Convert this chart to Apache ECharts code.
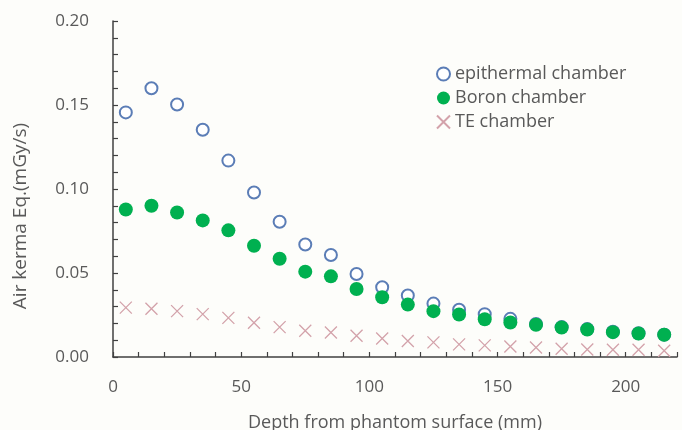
<!DOCTYPE html>
<html>
<head>
<meta charset="utf-8">
<script src="https://cdn.jsdelivr.net/npm/echarts@6/dist/echarts.min.js"></script>
<style>
  html, body { margin: 0; padding: 0; background: #fdfdfa; }
  #chart { width: 682px; height: 430px; }
</style>
</head>
<body>
<div id="chart"></div>
<script>
// Depth in phantom (mm)
const depths = [5, 15, 25, 35, 45, 55, 65, 75, 85, 95, 105, 115, 125, 135, 145, 155, 165, 175, 185, 195, 205, 215];

// Air kerma equivalent (mGy/s) per detector
const epithermal = [0.1456, 0.1600, 0.1503, 0.1353, 0.1169, 0.0979, 0.0805, 0.0670, 0.0607, 0.0494, 0.0415, 0.0366, 0.0318, 0.0281, 0.0255, 0.0227, 0.0196, 0.0178, 0.0166, 0.0150, 0.0141, 0.0133];
const boron      = [0.0878, 0.0900, 0.0860, 0.0813, 0.0754, 0.0662, 0.0585, 0.0508, 0.0480, 0.0405, 0.0356, 0.0312, 0.0273, 0.0253, 0.0225, 0.0205, 0.0192, 0.0176, 0.0164, 0.0148, 0.0140, 0.0132];
const teChamber  = [0.0294, 0.0287, 0.0273, 0.0255, 0.0233, 0.0204, 0.0178, 0.0156, 0.0146, 0.0126, 0.0110, 0.0095, 0.0087, 0.0075, 0.0069, 0.0063, 0.0057, 0.0049, 0.0045, 0.0043, 0.0043, 0.0037];

const seriesNames = ['epithermal chamber', 'Boron chamber', 'TE chamber'];
const xTitle = 'Depth from phantom surface (mm)';
const yTitle = 'Air kerma Eq.(mGy/s)';

const pair = (ys) => depths.map((d, i) => [d, ys[i]]);

const FONT = '"Open Sans", "Noto Sans", sans-serif';
const TEXT = '#595959';
const AXIS = '#404040';
const CROSS = 'path://M0,0L10,10M10,0L0,10';

const chart = echarts.init(document.getElementById('chart'), null, { renderer: 'canvas' });

chart.setOption({
  backgroundColor: '#fdfdfa',
  animation: false,
  textStyle: { fontFamily: FONT },
  grid: { left: 113, right: 5, top: 21, bottom: 73, containLabel: false, outerBoundsMode: 'none' },
  legend: {
    orient: 'vertical',
    left: 431,
    top: 60,
    itemWidth: 13,
    itemHeight: 13,
    itemGap: 6,
    textStyle: { color: TEXT, fontSize: 18, fontFamily: FONT },
    data: seriesNames
  },
  xAxis: {
    type: 'value',
    min: 0,
    max: 220,
    interval: 10,
    name: xTitle,
    nameLocation: 'middle',
    nameGap: 57,
    nameTextStyle: { color: TEXT, fontSize: 18, fontFamily: FONT },
    axisLine: { show: true, lineStyle: { color: AXIS, width: 1.5 } },
    axisTick: { show: true, inside: true, length: 5, lineStyle: { color: AXIS, width: 1.2 } },
    axisLabel: {
      color: TEXT, fontSize: 17, fontFamily: FONT, margin: 22,
      formatter: (v) => (Math.round(v) % 50 === 0 ? String(Math.round(v)) : '')
    },
    splitLine: { show: false }
  },
  yAxis: {
    type: 'value',
    min: 0,
    max: 0.2,
    interval: 0.01,
    name: yTitle,
    nameLocation: 'middle',
    nameGap: 83,
    nameRotate: 90,
    nameTextStyle: { color: TEXT, fontSize: 19, fontFamily: FONT, padding: [0, 54, 0, 0] },
    axisLine: { show: true, lineStyle: { color: AXIS, width: 1.5 } },
    axisTick: { show: true, inside: true, length: 5, lineStyle: { color: AXIS, width: 1.2 } },
    axisLabel: {
      color: TEXT, fontSize: 17, fontFamily: FONT, margin: 24,
      formatter: (v) => (Math.round(v * 100) % 5 === 0 ? v.toFixed(2) : '')
    },
    splitLine: { show: false }
  },
  series: [
    {
      name: seriesNames[0],
      type: 'scatter',
      symbol: 'emptyCircle',
      symbolSize: 12,
      z: 2,
      itemStyle: { color: '#5b7db6', borderColor: '#5b7db6', borderWidth: 2, opacity: 1 },
      data: pair(epithermal)
    },
    {
      name: seriesNames[1],
      type: 'scatter',
      symbol: 'circle',
      symbolSize: 14,
      z: 3,
      itemStyle: { color: '#00b050', opacity: 1 },
      data: pair(boron)
    },
    {
      name: seriesNames[2],
      type: 'scatter',
      symbol: CROSS,
      symbolSize: 12,
      z: 1,
      itemStyle: { color: 'rgba(0,0,0,0)', borderColor: '#d3a2aa', borderWidth: 1.3, opacity: 1 },
      data: pair(teChamber)
    }
  ]
});
</script>
</body>
</html>
